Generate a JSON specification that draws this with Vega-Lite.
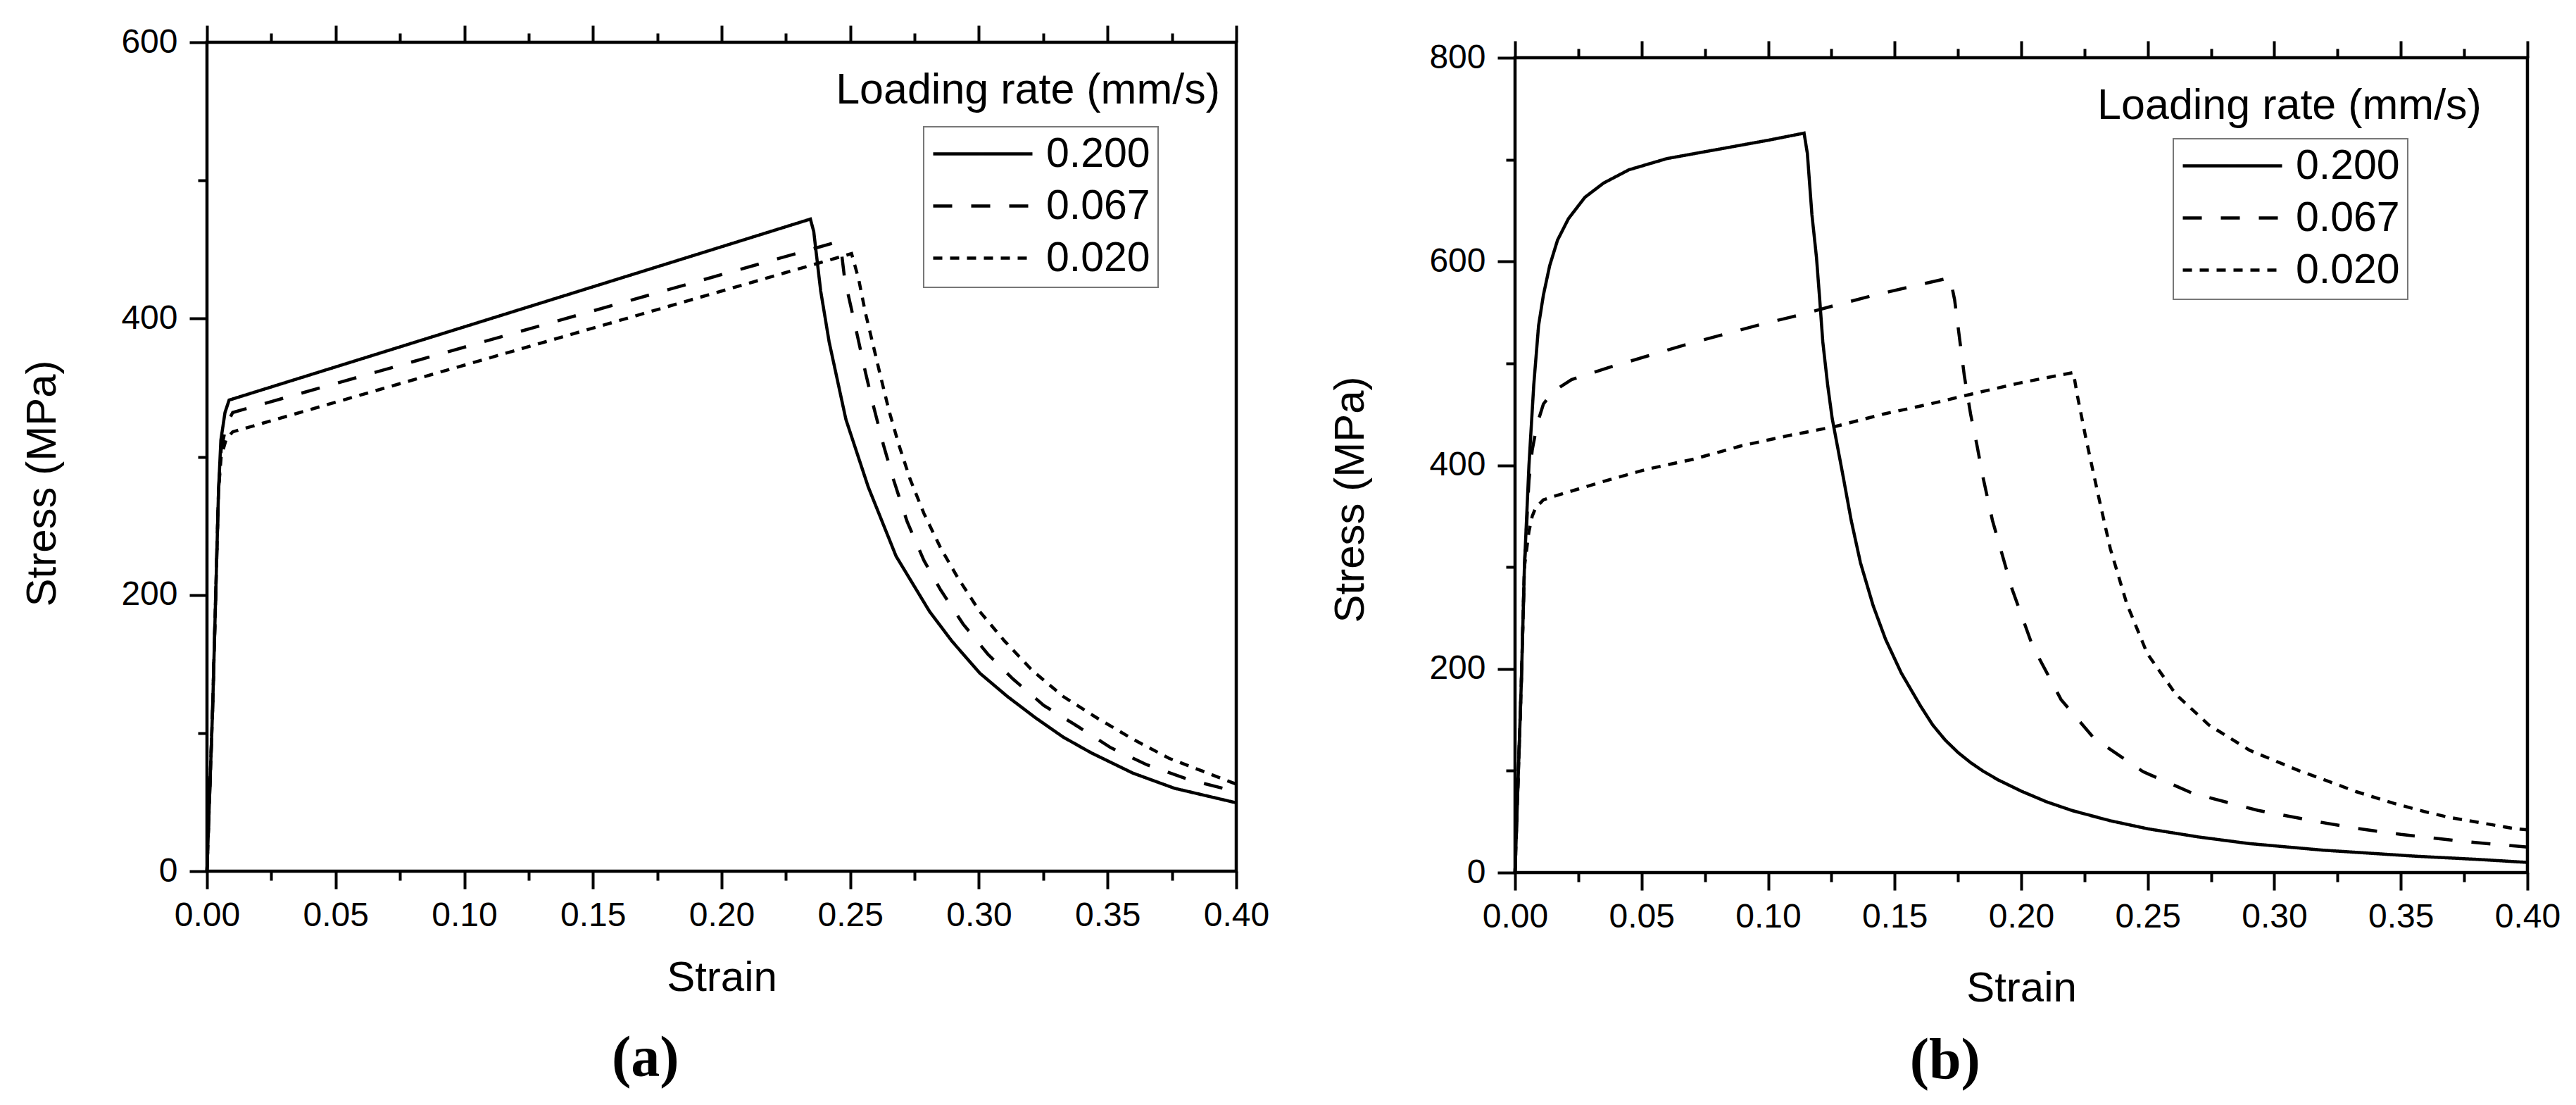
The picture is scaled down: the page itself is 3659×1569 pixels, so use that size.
{
  "$schema": "https://vega.github.io/schema/vega-lite/v6.json",
  "background": "white",
  "padding": {"left": 28, "top": 31, "right": 5, "bottom": 5},
  "spacing": 81,
  "datasets": {
    "a": [
      {"rate": "0.200", "strain": 0, "stress": 0},
      {"rate": "0.200", "strain": 0.0022, "stress": 118},
      {"rate": "0.200", "strain": 0.0045, "stress": 276},
      {"rate": "0.200", "strain": 0.0054, "stress": 312},
      {"rate": "0.200", "strain": 0.007, "stress": 332},
      {"rate": "0.200", "strain": 0.0086, "stress": 341},
      {"rate": "0.200", "strain": 0.2345, "stress": 472},
      {"rate": "0.200", "strain": 0.2358, "stress": 463},
      {"rate": "0.200", "strain": 0.2385, "stress": 420},
      {"rate": "0.200", "strain": 0.2418, "stress": 383},
      {"rate": "0.200", "strain": 0.2483, "stress": 327},
      {"rate": "0.200", "strain": 0.257, "stress": 278},
      {"rate": "0.200", "strain": 0.2678, "stress": 228},
      {"rate": "0.200", "strain": 0.2808, "stress": 188},
      {"rate": "0.200", "strain": 0.2895, "stress": 166.5},
      {"rate": "0.200", "strain": 0.3003, "stress": 143.4},
      {"rate": "0.200", "strain": 0.3111, "stress": 126.4},
      {"rate": "0.200", "strain": 0.322, "stress": 111},
      {"rate": "0.200", "strain": 0.3328, "stress": 97},
      {"rate": "0.200", "strain": 0.3436, "stress": 85.7},
      {"rate": "0.200", "strain": 0.3598, "stress": 71},
      {"rate": "0.200", "strain": 0.376, "stress": 60},
      {"rate": "0.200", "strain": 0.4, "stress": 49.5},
      {"rate": "0.067", "strain": 0, "stress": 0},
      {"rate": "0.067", "strain": 0.0022, "stress": 118},
      {"rate": "0.067", "strain": 0.0045, "stress": 276},
      {"rate": "0.067", "strain": 0.0055, "stress": 305},
      {"rate": "0.067", "strain": 0.0075, "stress": 323},
      {"rate": "0.067", "strain": 0.01, "stress": 332},
      {"rate": "0.067", "strain": 0.2441, "stress": 455},
      {"rate": "0.067", "strain": 0.2467, "stress": 446},
      {"rate": "0.067", "strain": 0.2478, "stress": 429},
      {"rate": "0.067", "strain": 0.2526, "stress": 389},
      {"rate": "0.067", "strain": 0.2559, "stress": 361},
      {"rate": "0.067", "strain": 0.2591, "stress": 336},
      {"rate": "0.067", "strain": 0.2629, "stress": 308.5},
      {"rate": "0.067", "strain": 0.2667, "stress": 284},
      {"rate": "0.067", "strain": 0.2721, "stress": 253},
      {"rate": "0.067", "strain": 0.2786, "stress": 225},
      {"rate": "0.067", "strain": 0.2851, "stress": 203.6},
      {"rate": "0.067", "strain": 0.2938, "stress": 179},
      {"rate": "0.067", "strain": 0.3035, "stress": 157},
      {"rate": "0.067", "strain": 0.3133, "stress": 139},
      {"rate": "0.067", "strain": 0.3252, "stress": 120},
      {"rate": "0.067", "strain": 0.3382, "stress": 105},
      {"rate": "0.067", "strain": 0.3512, "stress": 89.4},
      {"rate": "0.067", "strain": 0.3653, "stress": 77},
      {"rate": "0.067", "strain": 0.3815, "stress": 66.3},
      {"rate": "0.067", "strain": 0.4, "stress": 57.5},
      {"rate": "0.020", "strain": 0, "stress": 0},
      {"rate": "0.020", "strain": 0.0022, "stress": 118},
      {"rate": "0.020", "strain": 0.0045, "stress": 276},
      {"rate": "0.020", "strain": 0.0055, "stress": 300},
      {"rate": "0.020", "strain": 0.0075, "stress": 313},
      {"rate": "0.020", "strain": 0.01, "stress": 318},
      {"rate": "0.020", "strain": 0.2505, "stress": 447},
      {"rate": "0.020", "strain": 0.2532, "stress": 429},
      {"rate": "0.020", "strain": 0.2559, "stress": 404},
      {"rate": "0.020", "strain": 0.2586, "stress": 383},
      {"rate": "0.020", "strain": 0.2618, "stress": 358},
      {"rate": "0.020", "strain": 0.2651, "stress": 333},
      {"rate": "0.020", "strain": 0.2689, "stress": 308.5},
      {"rate": "0.020", "strain": 0.2732, "stress": 284},
      {"rate": "0.020", "strain": 0.2786, "stress": 259},
      {"rate": "0.020", "strain": 0.2851, "stress": 234},
      {"rate": "0.020", "strain": 0.2916, "stress": 213},
      {"rate": "0.020", "strain": 0.3003, "stress": 188},
      {"rate": "0.020", "strain": 0.31, "stress": 166.5},
      {"rate": "0.020", "strain": 0.3209, "stress": 145},
      {"rate": "0.020", "strain": 0.3328, "stress": 126.4},
      {"rate": "0.020", "strain": 0.3458, "stress": 111},
      {"rate": "0.020", "strain": 0.3598, "stress": 95.6},
      {"rate": "0.020", "strain": 0.3739, "stress": 81.7},
      {"rate": "0.020", "strain": 0.3869, "stress": 72.4},
      {"rate": "0.020", "strain": 0.4, "stress": 63}
    ],
    "b": [
      {"rate": "0.200", "strain": 0, "stress": 0},
      {"rate": "0.200", "strain": 0.0025, "stress": 188},
      {"rate": "0.200", "strain": 0.0037, "stress": 300},
      {"rate": "0.200", "strain": 0.0055, "stress": 400},
      {"rate": "0.200", "strain": 0.0074, "stress": 479},
      {"rate": "0.200", "strain": 0.0093, "stress": 537},
      {"rate": "0.200", "strain": 0.0112, "stress": 567},
      {"rate": "0.200", "strain": 0.0137, "stress": 596},
      {"rate": "0.200", "strain": 0.0168, "stress": 621},
      {"rate": "0.200", "strain": 0.0211, "stress": 642},
      {"rate": "0.200", "strain": 0.0276, "stress": 663},
      {"rate": "0.200", "strain": 0.035, "stress": 677},
      {"rate": "0.200", "strain": 0.045, "stress": 690},
      {"rate": "0.200", "strain": 0.06, "stress": 701},
      {"rate": "0.200", "strain": 0.08, "stress": 710},
      {"rate": "0.200", "strain": 0.1, "stress": 719},
      {"rate": "0.200", "strain": 0.1142, "stress": 726},
      {"rate": "0.200", "strain": 0.1155, "stress": 706},
      {"rate": "0.200", "strain": 0.1173, "stress": 646},
      {"rate": "0.200", "strain": 0.1191, "stress": 604},
      {"rate": "0.200", "strain": 0.1204, "stress": 562},
      {"rate": "0.200", "strain": 0.1216, "stress": 521},
      {"rate": "0.200", "strain": 0.1235, "stress": 479},
      {"rate": "0.200", "strain": 0.1253, "stress": 446},
      {"rate": "0.200", "strain": 0.1272, "stress": 421},
      {"rate": "0.200", "strain": 0.1297, "stress": 388},
      {"rate": "0.200", "strain": 0.1328, "stress": 346},
      {"rate": "0.200", "strain": 0.1365, "stress": 304},
      {"rate": "0.200", "strain": 0.1415, "stress": 262},
      {"rate": "0.200", "strain": 0.1464, "stress": 229},
      {"rate": "0.200", "strain": 0.1526, "stress": 196},
      {"rate": "0.200", "strain": 0.1601, "stress": 164},
      {"rate": "0.200", "strain": 0.165, "stress": 145},
      {"rate": "0.200", "strain": 0.17, "stress": 130},
      {"rate": "0.200", "strain": 0.175, "stress": 118},
      {"rate": "0.200", "strain": 0.18, "stress": 108},
      {"rate": "0.200", "strain": 0.185, "stress": 99.5},
      {"rate": "0.200", "strain": 0.1909, "stress": 91},
      {"rate": "0.200", "strain": 0.2, "stress": 80},
      {"rate": "0.200", "strain": 0.21, "stress": 69.5},
      {"rate": "0.200", "strain": 0.22, "stress": 61},
      {"rate": "0.200", "strain": 0.235, "stress": 51},
      {"rate": "0.200", "strain": 0.25, "stress": 43},
      {"rate": "0.200", "strain": 0.27, "stress": 35},
      {"rate": "0.200", "strain": 0.29, "stress": 28.5},
      {"rate": "0.200", "strain": 0.3193, "stress": 22},
      {"rate": "0.200", "strain": 0.3564, "stress": 16},
      {"rate": "0.200", "strain": 0.38, "stress": 13},
      {"rate": "0.200", "strain": 0.4, "stress": 10},
      {"rate": "0.067", "strain": 0, "stress": 0},
      {"rate": "0.067", "strain": 0.0025, "stress": 188},
      {"rate": "0.067", "strain": 0.0037, "stress": 300},
      {"rate": "0.067", "strain": 0.0055, "stress": 385},
      {"rate": "0.067", "strain": 0.0068, "stress": 415},
      {"rate": "0.067", "strain": 0.0087, "stress": 440},
      {"rate": "0.067", "strain": 0.0112, "stress": 460},
      {"rate": "0.067", "strain": 0.0149, "stress": 472},
      {"rate": "0.067", "strain": 0.0223, "stress": 484},
      {"rate": "0.067", "strain": 0.0372, "stress": 496},
      {"rate": "0.067", "strain": 0.0521, "stress": 507},
      {"rate": "0.067", "strain": 0.067, "stress": 518},
      {"rate": "0.067", "strain": 0.0819, "stress": 528},
      {"rate": "0.067", "strain": 0.0968, "stress": 538},
      {"rate": "0.067", "strain": 0.1117, "stress": 547},
      {"rate": "0.067", "strain": 0.1266, "stress": 557},
      {"rate": "0.067", "strain": 0.1421, "stress": 567},
      {"rate": "0.067", "strain": 0.1576, "stress": 576},
      {"rate": "0.067", "strain": 0.1719, "stress": 584},
      {"rate": "0.067", "strain": 0.1737, "stress": 562},
      {"rate": "0.067", "strain": 0.1756, "stress": 525},
      {"rate": "0.067", "strain": 0.1775, "stress": 488},
      {"rate": "0.067", "strain": 0.18, "stress": 450},
      {"rate": "0.067", "strain": 0.1824, "stress": 421},
      {"rate": "0.067", "strain": 0.1849, "stress": 388},
      {"rate": "0.067", "strain": 0.1886, "stress": 346},
      {"rate": "0.067", "strain": 0.1963, "stress": 279},
      {"rate": "0.067", "strain": 0.2044, "stress": 223},
      {"rate": "0.067", "strain": 0.2157, "stress": 170},
      {"rate": "0.067", "strain": 0.2287, "stress": 132},
      {"rate": "0.067", "strain": 0.2482, "stress": 99},
      {"rate": "0.067", "strain": 0.2676, "stress": 78},
      {"rate": "0.067", "strain": 0.2936, "stress": 61},
      {"rate": "0.067", "strain": 0.3193, "stress": 49},
      {"rate": "0.067", "strain": 0.3323, "stress": 43.5},
      {"rate": "0.067", "strain": 0.35, "stress": 37.5},
      {"rate": "0.067", "strain": 0.375, "stress": 30.5},
      {"rate": "0.067", "strain": 0.4, "stress": 25},
      {"rate": "0.020", "strain": 0, "stress": 0},
      {"rate": "0.020", "strain": 0.0025, "stress": 188},
      {"rate": "0.020", "strain": 0.0037, "stress": 300},
      {"rate": "0.020", "strain": 0.0055, "stress": 335},
      {"rate": "0.020", "strain": 0.0068, "stress": 350},
      {"rate": "0.020", "strain": 0.0081, "stress": 358},
      {"rate": "0.020", "strain": 0.0112, "stress": 366},
      {"rate": "0.020", "strain": 0.0149, "stress": 369},
      {"rate": "0.020", "strain": 0.0335, "stress": 383},
      {"rate": "0.020", "strain": 0.0521, "stress": 396},
      {"rate": "0.020", "strain": 0.0707, "stress": 406},
      {"rate": "0.020", "strain": 0.0894, "stress": 419},
      {"rate": "0.020", "strain": 0.108, "stress": 429},
      {"rate": "0.020", "strain": 0.1266, "stress": 438},
      {"rate": "0.020", "strain": 0.1452, "stress": 450},
      {"rate": "0.020", "strain": 0.1638, "stress": 460},
      {"rate": "0.020", "strain": 0.1824, "stress": 471},
      {"rate": "0.020", "strain": 0.2, "stress": 481},
      {"rate": "0.020", "strain": 0.2206, "stress": 491},
      {"rate": "0.020", "strain": 0.2222, "stress": 468},
      {"rate": "0.020", "strain": 0.2255, "stress": 427},
      {"rate": "0.020", "strain": 0.2303, "stress": 372},
      {"rate": "0.020", "strain": 0.2352, "stress": 318},
      {"rate": "0.020", "strain": 0.2417, "stress": 264},
      {"rate": "0.020", "strain": 0.2498, "stress": 215},
      {"rate": "0.020", "strain": 0.2611, "stress": 175},
      {"rate": "0.020", "strain": 0.2741, "stress": 145},
      {"rate": "0.020", "strain": 0.2903, "stress": 120},
      {"rate": "0.020", "strain": 0.3098, "stress": 100},
      {"rate": "0.020", "strain": 0.3193, "stress": 91.5},
      {"rate": "0.020", "strain": 0.3323, "stress": 79.5},
      {"rate": "0.020", "strain": 0.3472, "stress": 68},
      {"rate": "0.020", "strain": 0.3592, "stress": 60},
      {"rate": "0.020", "strain": 0.3685, "stress": 54.5},
      {"rate": "0.020", "strain": 0.3953, "stress": 43},
      {"rate": "0.020", "strain": 0.4, "stress": 42}
    ],
    "legendTitle": [{"label": "Loading rate (mm/s)"}],
    "empty": []
  },
  "hconcat": [
    {
      "width": 1462,
      "height": 1177,
      "title": {"text": "(a)", "orient": "bottom", "frame": "bounds", "anchor": "middle", "offset": 45, "font": "Liberation Serif", "fontSize": 82, "fontWeight": "bold", "color": "black"},
      "resolve": {"axis": {"x": "independent"}},
      "layer": [
        {
          "data": {"name": "a"},
          "mark": {"type": "line", "color": "black", "strokeWidth": 4.5},
          "encoding": {
            "x": {
              "field": "strain", "type": "quantitative",
              "scale": {"domain": [0, 0.4], "nice": false, "zero": false},
              "axis": {
                "orient": "bottom", "title": "Strain",
                "values": [0, 0.025, 0.05, 0.075, 0.1, 0.125, 0.15, 0.175, 0.2, 0.225, 0.25, 0.275, 0.3, 0.325, 0.35, 0.375, 0.4],
                "labelExpr": "abs(datum.value*20 - round(datum.value*20)) < 0.01 ? format(datum.value, '.2f') : ''",
                "tickSize": {"condition": {"test": "abs(datum.value*20 - round(datum.value*20)) < 0.01", "value": 25}, "value": 13},
                "labelPadding": 14, "titlePadding": 35
              }
            },
            "y": {
              "field": "stress", "type": "quantitative",
              "scale": {"domain": [0, 600], "nice": false},
              "title": "Stress (MPa)",
              "axis": {
                "title": "Stress (MPa)",
                "values": [0, 100, 200, 300, 400, 500, 600],
                "labelExpr": "datum.value % 200 === 0 ? datum.label : ''",
                "tickSize": {"condition": {"test": "datum.value % 200 === 0", "value": 25}, "value": 13},
                "labelPadding": 17, "titlePadding": 80, "titleY": 626
              }
            },
            "strokeDash": {
              "field": "rate", "type": "nominal",
              "scale": {"domain": ["0.200", "0.067", "0.020"], "range": [[1, 0], [27, 27], [13, 11]]},
              "legend": {"title": null, "orient": "none", "legendX": 1018, "legendY": 120}
            }
          }
        },
        {
          "data": {"name": "legendTitle"},
          "mark": {"type": "text", "align": "right", "baseline": "alphabetic", "font": "Liberation Sans", "fontSize": 61, "color": "black"},
          "encoding": {
            "x": {
              "datum": 0.3937, "type": "quantitative",
              "axis": {
                "orient": "top", "title": null, "labels": false,
                "values": [0, 0.025, 0.05, 0.075, 0.1, 0.125, 0.15, 0.175, 0.2, 0.225, 0.25, 0.275, 0.3, 0.325, 0.35, 0.375, 0.4],
                "tickSize": {"condition": {"test": "abs(datum.value*20 - round(datum.value*20)) < 0.01", "value": 24}, "value": 13}
              }
            },
            "y": {"datum": 555.8, "type": "quantitative", "title": "Stress (MPa)"},
            "text": {"field": "label"}
          }
        }
      ]
    },
    {
      "spacing": -8,
      "resolve": {"scale": {"strokeDash": "independent"}, "legend": {"strokeDash": "independent"}},
      "vconcat": [
        {
          "width": 1438,
          "height": 1,
          "view": {"stroke": null},
          "data": {"name": "empty"},
          "mark": "point"
        },
        {
          "width": 1438,
          "height": 1157,
          "title": {"text": "(b)", "orient": "bottom", "frame": "bounds", "anchor": "middle", "offset": 33, "font": "Liberation Serif", "fontSize": 82, "fontWeight": "bold", "color": "black"},
          "resolve": {"axis": {"x": "independent"}},
          "layer": [
            {
              "data": {"name": "b"},
              "mark": {"type": "line", "color": "black", "strokeWidth": 4.5},
              "encoding": {
                "x": {
                  "field": "strain", "type": "quantitative",
                  "scale": {"domain": [0, 0.4], "nice": false, "zero": false},
                  "axis": {
                    "orient": "bottom", "title": "Strain",
                    "values": [0, 0.025, 0.05, 0.075, 0.1, 0.125, 0.15, 0.175, 0.2, 0.225, 0.25, 0.275, 0.3, 0.325, 0.35, 0.375, 0.4],
                    "labelExpr": "abs(datum.value*20 - round(datum.value*20)) < 0.01 ? format(datum.value, '.2f') : ''",
                    "tickSize": {"condition": {"test": "abs(datum.value*20 - round(datum.value*20)) < 0.01", "value": 25}, "value": 13},
                    "labelPadding": 14, "titlePadding": 48
                  }
                },
                "y": {
                  "field": "stress", "type": "quantitative",
                  "scale": {"domain": [0, 800], "nice": false},
                  "title": "Stress (MPa)",
                  "axis": {
                    "title": "Stress (MPa)",
                    "values": [0, 100, 200, 300, 400, 500, 600, 700, 800],
                    "labelExpr": "datum.value % 200 === 0 ? datum.label : ''",
                    "tickSize": {"condition": {"test": "datum.value % 200 === 0", "value": 25}, "value": 13},
                    "labelPadding": 17, "titlePadding": 80, "titleY": 627
                  }
                },
                "strokeDash": {
                  "field": "rate", "type": "nominal",
                  "scale": {"domain": ["0.200", "0.067", "0.020"], "range": [[1, 0], [27, 27], [13, 11]]},
                  "legend": {"title": null, "orient": "none", "legendX": 935, "legendY": 115}
                }
              }
            },
            {
              "data": {"name": "legendTitle"},
              "mark": {"type": "text", "align": "right", "baseline": "alphabetic", "font": "Liberation Sans", "fontSize": 61, "color": "black"},
              "encoding": {
                "x": {
                  "datum": 0.3819, "type": "quantitative",
                  "axis": {
                    "orient": "top", "title": null, "labels": false,
                    "values": [0, 0.025, 0.05, 0.075, 0.1, 0.125, 0.15, 0.175, 0.2, 0.225, 0.25, 0.275, 0.3, 0.325, 0.35, 0.375, 0.4],
                    "tickSize": {"condition": {"test": "abs(datum.value*20 - round(datum.value*20)) < 0.01", "value": 24}, "value": 13}
                  }
                },
                "y": {"datum": 739.8, "type": "quantitative", "title": "Stress (MPa)"},
                "text": {"field": "label"}
              }
            }
          ]
        }
      ]
    }
  ],
  "resolve": {"scale": {"strokeDash": "independent"}, "legend": {"strokeDash": "independent"}},
  "config": {
    "view": {"stroke": "black", "strokeWidth": 4.5},
    "axis": {
      "grid": false, "domain": false,
      "tickColor": "black", "tickWidth": 4,
      "labelFont": "Liberation Sans", "labelFontSize": 48, "labelColor": "black",
      "labelFlush": false, "labelOverlap": false,
      "titleFont": "Liberation Sans", "titleFontSize": 60, "titleFontWeight": "normal", "titleColor": "black"
    },
    "legend": {
      "symbolType": "stroke", "symbolSize": 19881, "symbolStrokeWidth": 4.5, "symbolStrokeColor": "black",
      "clipHeight": 55, "rowPadding": 14, "labelOffset": 17,
      "labelFont": "Liberation Sans", "labelFontSize": 59, "labelColor": "black", "labelLimit": 400,
      "padding": 11, "strokeColor": "#777777", "strokeWidth": 2, "fillColor": "white"
    }
  }
}
